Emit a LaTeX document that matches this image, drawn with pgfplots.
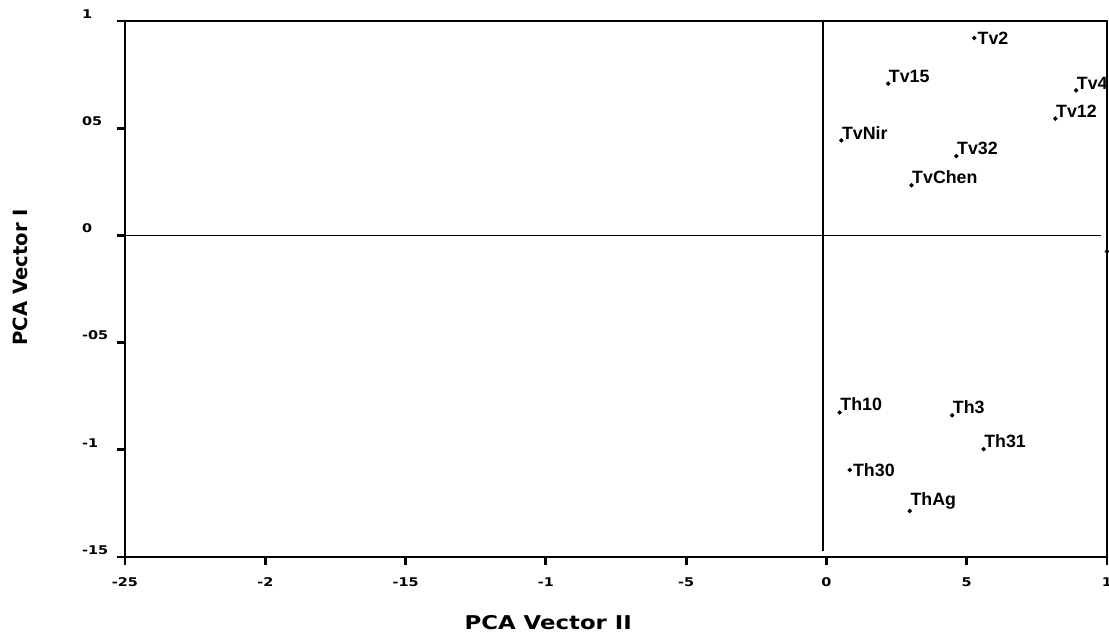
\documentclass[border=0pt]{standalone}
\usepackage{pgfplots}
\pgfplotsset{compat=1.18}
\usepackage{fontspec}
\setmainfont{Liberation Sans}
\newfontfamily\verd{DejaVu Sans}
\newfontfamily\verdw{DejaVu Sans}[FakeStretch=1.2]
\begin{document}
\begin{tikzpicture}
\useasboundingbox (-62.5pt,-38.5pt) rectangle (492pt,278.5pt);
\begin{axis}[
 at={(0,0)}, anchor=south west,
 scale only axis, width=491pt, height=268pt,
 xmin=-2.5, xmax=1, ymin=-1.5, ymax=1,
 xtick={-2.5,-2,-1.5,-1,-0.5,0,0.5,1},
 xticklabels={-25,-2,-15,-1,-5,0,5,1},
 ytick={-1.5,-1,-0.5,0,0.5,1},
 yticklabels={-15,-1,-05,0,05,1},
 tick align=outside, tick pos=left,
 major tick length=4pt,
 tick style={line width=1.4pt, black},
 axis line style={line width=1.2pt},
 ticklabel style={font=\verdw\bfseries\fontsize{6}{7}\selectfont},
 xticklabel style={yshift=-3pt},
 yticklabel style={anchor=west, xshift=-21pt, yshift=3.5pt},
 xlabel={PCA Vector II}, ylabel={PCA Vector I},
 xlabel style={font=\verdw\bfseries\fontsize{9.5}{11}\selectfont, at={(axis description cs:0.431,-0.123)}, anchor=center},
 ylabel style={font=\verd\bfseries\fontsize{9.8}{11}\selectfont, at={(axis description cs:-0.107,0.522)}, anchor=center},
 clip=false,
]
% tick marks
\addplot[black, line width=1.4pt, unbounded coords=jump] coordinates {
(-2.5,-1.5) (-2.5,-1.537) (nan,nan)
(-2,-1.5) (-2,-1.537) (nan,nan)
(-1.5,-1.5) (-1.5,-1.537) (nan,nan)
(-1,-1.5) (-1,-1.537) (nan,nan)
(-0.5,-1.5) (-0.5,-1.537) (nan,nan)
(0,-1.5) (0,-1.537) (nan,nan)
(0.5,-1.5) (0.5,-1.537) (nan,nan)
(1,-1.5) (1,-1.537) (nan,nan)
(-2.5,-1.5) (-2.525,-1.5) (nan,nan)
(-2.5,-1) (-2.525,-1) (nan,nan)
(-2.5,-0.5) (-2.525,-0.5) (nan,nan)
(-2.5,0) (-2.525,0) (nan,nan)
(-2.5,0.5) (-2.525,0.5) (nan,nan)
(-2.5,1) (-2.525,1)
};
\addplot[black, line width=0.9pt] coordinates {(-2.5,0) (0.98,0)};
\addplot[black, line width=0.9pt] coordinates {(-0.012,1) (-0.012,-1.47)};
\addplot[only marks, mark=*, mark size=0.9pt, black, nodes near coords,
 point meta=explicit symbolic,
 nodes near coords style={anchor=south west, inner sep=0.5pt, xshift=-0.3pt,
 font=\bfseries\fontsize{8.9}{10}\selectfont}]
 table[meta=label] {
x y label
0.22 0.708 Tv15
0.89 0.676 Tv4
0.816 0.545 Tv12
0.053 0.443 TvNir
0.463 0.370 Tv32
0.303 0.234 TvChen
0.047 -0.826 Th10
0.448 -0.839 Th3
0.560 -0.997 Th31
0.297 -1.285 ThAg
};
\addplot[only marks, mark=*, mark size=0.9pt, black, nodes near coords,
 point meta=explicit symbolic,
 nodes near coords style={anchor=west, inner sep=0.5pt, xshift=1pt,
 font=\bfseries\fontsize{8.9}{10}\selectfont}]
 table[meta=label] {
x y label
0.527 0.921 Tv2
0.083 -1.094 Th30
};
\addplot[only marks, mark=*, mark size=0.9pt, black] coordinates {(1.0,-0.075)};
\end{axis}
\end{tikzpicture}
\end{document}
